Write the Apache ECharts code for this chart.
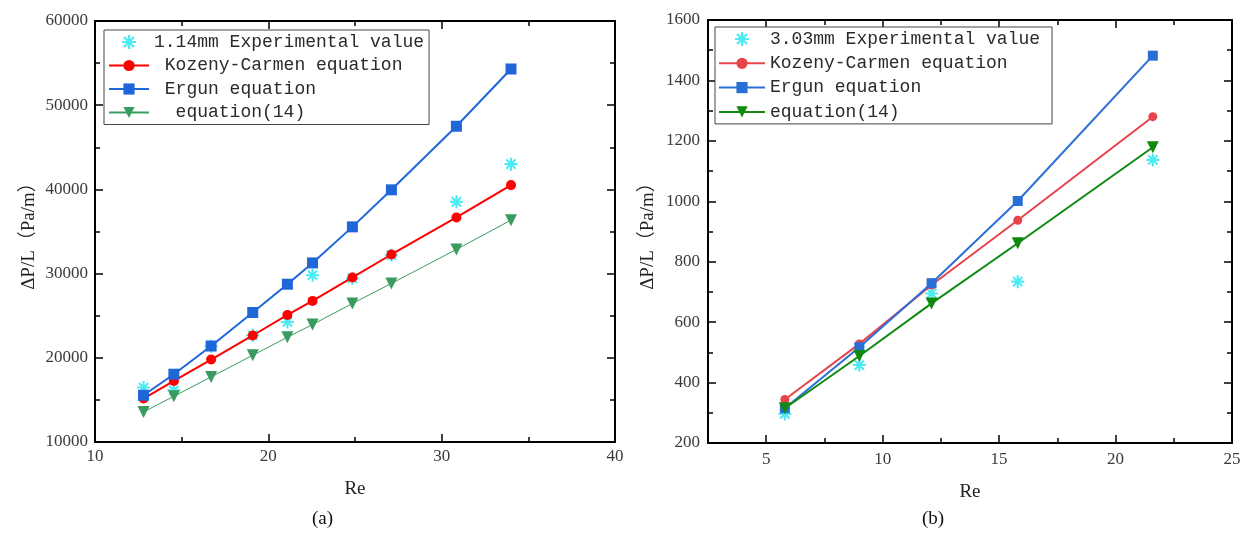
<!DOCTYPE html>
<html>
<head>
<meta charset="utf-8">
<script src="https://cdn.jsdelivr.net/npm/echarts@6/dist/echarts.min.js"></script>
<style>html,body{margin:0;padding:0;background:#fff}#c{width:1249px;height:537px}</style>
</head>
<body>
<div id="c"></div>
<script>
// ---------- data ----------
const leftRe     = [12.8, 14.55, 16.7, 19.1, 21.1, 22.55, 24.85, 27.1, 30.85, 34.0];
const leftExp    = [16470, 16140, 21370, 22680, 24260, 29810, 29420, 32190, 38520, 43000];
const leftKC     = [15160, 17250, 19790, 22650, 25090, 26760, 29540, 32270, 36670, 40510];
const leftErgun  = [15550, 18050, 21400, 25380, 28740, 31270, 35550, 39950, 47500, 54300];
const leftEq14   = [13570, 15430, 17730, 20300, 22440, 23950, 26450, 28830, 32870, 36350];

const rightRe    = [5.8, 9.0, 12.1, 15.8, 21.6];
const rightExp   = [296, 458, 695, 734, 1137];
const rightKC    = [344, 528, 723, 937, 1280];
const rightErgun = [315, 517, 729, 1001, 1482];
const rightEq14  = [315, 488, 662, 861, 1179];

const leftXTicks  = [10, 20, 30, 40];
const leftYTicks  = [10000, 20000, 30000, 40000, 50000, 60000];
const rightXMin   = 2.5;
const rightXTicks = [5, 10, 15, 20, 25];
const rightXMinor = [7.5, 12.5, 17.5, 22.5];
const rightYTicks = [200, 400, 600, 800, 1000, 1200, 1400, 1600];

const leftNames  = ['1.14mm Experimental value', 'Kozeny-Carmen equation', 'Ergun equation', 'equation(14)'];
const rightNames = ['3.03mm Experimental value', 'Kozeny-Carmen equation', 'Ergun equation', 'equation(14)'];
const leftPad    = ['', ' ', ' ', '  '];
const yName = 'ΔP/L（Pa/m）';
const xName = 'Re';
const captions = ['(a)', '(b)'];

// ---------- helpers ----------
const pairs = (xs, ys) => xs.map((x, i) => [x, ys[i]]);
const ast = 'path://M-1.6,-10L1.6,-10L1.6,10L-1.6,10Z M-10,-1.6L10,-1.6L10,1.6L-10,1.6Z ' +
            'M5.94,-8.2L8.2,-5.94L-5.94,8.2L-8.2,5.94Z M-8.2,-5.94L-5.94,-8.2L8.2,5.94L5.94,8.2Z';
const serif = 'Liberation Serif, Noto Sans CJK SC, serif';
const tickLine = {color: '#000', width: 1.5};
const plain = v => String(v);

function lbl(margin, extra) {
  return Object.assign({show: true, fontFamily: serif, fontSize: 17, color: '#3a3a3a',
                        margin: margin, formatter: plain}, extra || {});
}

function axis(o) {
  return Object.assign({
    type: 'value',
    nameMoveOverlap: false,
    axisLine: {show: true, onZero: false, lineStyle: {color: '#000', width: 2}},
    axisTick: {show: true, inside: true, length: 8, lineStyle: tickLine},
    minorTick: {show: true, splitNumber: 2, length: 5, lineStyle: tickLine},
    splitLine: {show: false},
    minorSplitLine: {show: false},
    axisLabel: lbl(7),
    nameTextStyle: {fontFamily: serif, fontSize: 19, color: '#222'}
  }, o);
}

const lmin = leftXTicks[0], lmax = leftXTicks[leftXTicks.length - 1], lint = leftXTicks[1] - leftXTicks[0];
const ymin = leftYTicks[0], ymax = leftYTicks[leftYTicks.length - 1], yint = leftYTicks[1] - leftYTicks[0];
const rymin = rightYTicks[0], rymax = rightYTicks[rightYTicks.length - 1], ryint = rightYTicks[1] - rightYTicks[0];
const rxmax = rightXTicks[rightXTicks.length - 1];

const xAxes = [
  axis({gridIndex: 0, position: 'bottom', min: lmin, max: lmax, interval: lint,
        name: xName, nameLocation: 'middle', nameGap: 38, axisLabel: lbl(6)}),
  axis({gridIndex: 0, position: 'top', min: lmin, max: lmax, interval: lint, axisLabel: {show: false}}),
  axis({gridIndex: 1, position: 'bottom', min: rightXMin, max: rxmax,
        name: xName, nameLocation: 'middle', nameGap: 40,
        minorTick: {show: false},
        axisTick: {show: true, inside: true, length: 8, lineStyle: tickLine, customValues: rightXTicks},
        axisLabel: lbl(8, {customValues: rightXTicks})}),
  axis({gridIndex: 1, position: 'bottom', min: rightXMin, max: rxmax, axisLine: {show: false},
        minorTick: {show: false}, axisLabel: {show: false},
        axisTick: {show: true, inside: true, length: 5, lineStyle: tickLine, customValues: rightXMinor}}),
  axis({gridIndex: 1, position: 'top', min: rightXMin, max: rxmax,
        minorTick: {show: false}, axisLabel: {show: false},
        axisTick: {show: true, inside: true, length: 8, lineStyle: tickLine, customValues: rightXTicks}}),
  axis({gridIndex: 1, position: 'top', min: rightXMin, max: rxmax, axisLine: {show: false},
        minorTick: {show: false}, axisLabel: {show: false},
        axisTick: {show: true, inside: true, length: 5, lineStyle: tickLine, customValues: rightXMinor}})
];

const yAxes = [
  axis({gridIndex: 0, position: 'left', min: ymin, max: ymax, interval: yint,
        name: yName, nameLocation: 'middle', nameGap: 56, nameRotate: 90}),
  axis({gridIndex: 0, position: 'right', min: ymin, max: ymax, interval: yint, axisLabel: {show: false}}),
  axis({gridIndex: 1, position: 'left', min: rymin, max: rymax, interval: ryint,
        name: yName, nameLocation: 'middle', nameGap: 50, nameRotate: 90, axisLabel: lbl(8)}),
  axis({gridIndex: 1, position: 'right', min: rymin, max: rymax, interval: ryint, axisLabel: {show: false}})
];

function lineSeries(name, xi, yi, data, color, symbol, size, width, extra) {
  return Object.assign({
    name: name, type: 'line', xAxisIndex: xi, yAxisIndex: yi, data: data,
    symbol: symbol, symbolSize: size, showSymbol: true,
    itemStyle: {color: color}, lineStyle: {color: color, width: width}, z: 3
  }, extra || {});
}

const cyan = '#1fe6f0';
const series = [
  {name: 'a:' + leftNames[0], type: 'scatter', xAxisIndex: 0, yAxisIndex: 0,
   data: pairs(leftRe, leftExp), symbol: ast, symbolSize: 13, itemStyle: {color: cyan}, z: 2},
  lineSeries('a:' + leftNames[1], 0, 0, pairs(leftRe, leftKC), '#ff0000', 'circle', 10, 2),
  lineSeries('a:' + leftNames[2], 0, 0, pairs(leftRe, leftErgun), '#1f66d9', 'rect', 11, 2),
  lineSeries('a:' + leftNames[3], 0, 0, pairs(leftRe, leftEq14), '#3a9b60', 'triangle', 12, 1,
             {symbolRotate: 180}),
  {name: 'b:' + rightNames[0], type: 'scatter', xAxisIndex: 2, yAxisIndex: 2,
   data: pairs(rightRe, rightExp), symbol: ast, symbolSize: 13, itemStyle: {color: cyan}, z: 2},
  lineSeries('b:' + rightNames[1], 2, 2, pairs(rightRe, rightKC), '#e9434b', 'circle', 9, 2),
  lineSeries('b:' + rightNames[2], 2, 2, pairs(rightRe, rightErgun), '#2a6fd6', 'rect', 10, 2),
  lineSeries('b:' + rightNames[3], 2, 2, pairs(rightRe, rightEq14), '#0f8a0f', 'triangle', 12, 2,
             {symbolRotate: 180})
];

const legendText = {fontFamily: 'Liberation Mono, monospace', fontSize: 18, color: '#2a2a2a'};
function legendFmt(name) {
  const pre = name.slice(0, 2), base = name.slice(2);
  if (pre === 'a:') return leftPad[leftNames.indexOf(base)] + base;
  return base;
}

const option = {
  animation: false,
  backgroundColor: '#fff',
  grid: [
    {left: 95, top: 21, width: 520, height: 421},
    {left: 708, top: 20, width: 524, height: 423}
  ],
  xAxis: xAxes,
  yAxis: yAxes,
  legend: [
    {orient: 'vertical', left: 104, top: 30, padding: [3, 5, 3, 4], itemGap: 5.5,
     itemWidth: 40, itemHeight: 14, borderColor: '#444', borderWidth: 1, backgroundColor: '#fff',
     selectedMode: false, textStyle: legendText, formatter: legendFmt,
     data: leftNames.map(n => 'a:' + n)},
    {orient: 'vertical', left: 715, top: 27, padding: [3, 12, 3, 3], itemGap: 6.3,
     itemWidth: 46, itemHeight: 14, borderColor: '#444', borderWidth: 1, backgroundColor: '#fff',
     selectedMode: false, textStyle: legendText, formatter: legendFmt,
     data: rightNames.map(n => 'b:' + n)}
  ],
  graphic: [
    {type: 'text', left: 312, top: 510, style: {text: captions[0], font: '19px ' + serif, fill: '#111'}},
    {type: 'text', left: 922, top: 510, style: {text: captions[1], font: '19px ' + serif, fill: '#111'}}
  ],
  series: series
};

const chart = echarts.init(document.getElementById('c'), null, {renderer: 'canvas'});
chart.setOption(option);
</script>
</body>
</html>
